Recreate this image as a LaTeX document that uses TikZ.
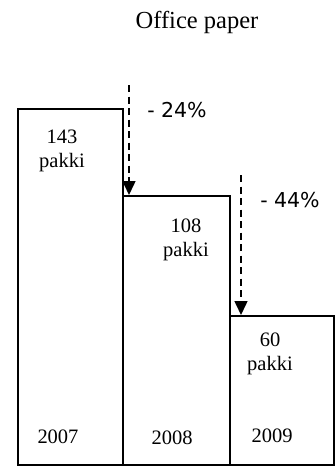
\documentclass[tikz,border=0pt]{standalone}
\usepackage{fontspec}
\setmainfont{Liberation Serif}
\newfontfamily\pctfont{DejaVu Sans}
\usetikzlibrary{arrows.meta}
\begin{document}
\begin{tikzpicture}[x=1pt,y=-1pt,
  bar/.style={draw=black,line width=2pt,rectangle,inner sep=0pt,anchor=north west},
  lab/.style={font=\fontsize{20.5}{23.5}\selectfont,align=center,inner sep=0pt},
  pct/.style={font=\pctfont\fontsize{20.5}{24}\selectfont,inner sep=0pt},
  drop/.style={dashed,dash pattern=on 7pt off 4.5pt,line width=1.5pt,-{Triangle[length=14pt,width=13pt]}}]
\useasboundingbox (0,0) rectangle (336,466);
\node[font=\fontsize{24.5}{28}\selectfont,inner sep=0pt] (title) at (197,22) {Office paper};
\node[bar,minimum width=105pt,minimum height=356pt] (b1) at (17,108) {};
\node[bar,minimum width=107pt,minimum height=269pt] (b2) at (122,195) {};
\node[bar,minimum width=104pt,minimum height=149pt] (b3) at (229,315) {};
\node[lab] (v1) at (62,151) {143\\pakki};
\node[lab] (v2) at (186,240) {108\\pakki};
\node[lab] (v3) at (270,354) {60\\pakki};
\node[lab] (y1) at (58,437) {2007};
\node[lab] (y2) at (172,438) {2008};
\node[lab] (y3) at (272,436) {2009};
\node[pct] (p1) at (177,110) {- 24\%};
\node[pct] (p2) at (290,200) {- 44\%};
\coordinate (s1) at (129,85);
\coordinate (s2) at (241,175);
\draw[drop] (s1) -- (s1 |- b2.north);
\draw[drop] (s2) -- (s2 |- b3.north);
\end{tikzpicture}
\end{document}
